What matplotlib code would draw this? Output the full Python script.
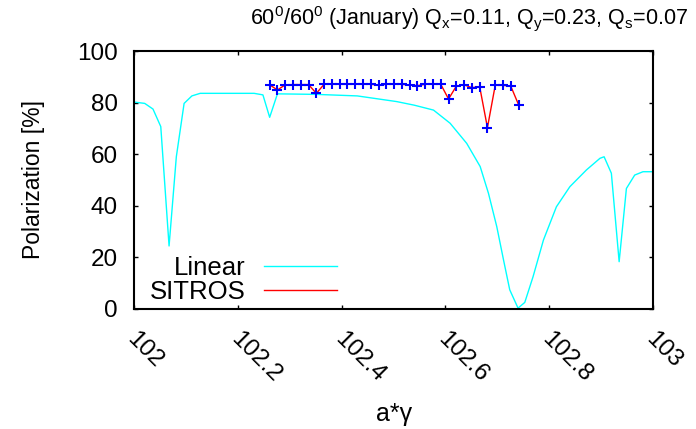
import matplotlib.pyplot as plt
import matplotlib.transforms as mtransforms
import numpy as np

plt.rcParams['font.family'] = ['Liberation Sans', 'DejaVu Sans']
plt.rcParams['mathtext.default'] = 'regular'

# Linear (cyan) curve
lin_x = [102.0, 102.02, 102.036, 102.051, 102.067, 102.081, 102.096, 102.111, 102.127,
         102.231, 102.248, 102.261, 102.276, 102.35, 102.43, 102.506, 102.54, 102.577,
         102.609, 102.641, 102.667, 102.683, 102.699, 102.712, 102.724, 102.740, 102.753,
         102.769, 102.789, 102.814, 102.84, 102.872, 102.898, 102.906, 102.92, 102.935,
         102.949, 102.965, 102.981, 103.0]
lin_y = [80.2, 79.7, 77.5, 70.7, 24.4, 59.0, 79.7, 82.6, 83.6,
         83.6, 83.0, 74.3, 83.4, 83.2, 82.6, 80.4, 79.0, 77.1,
         72.0, 64.2, 55.2, 44.8, 31.9, 19.0, 7.4, 0.3, 2.5,
         12.5, 26.7, 39.6, 47.4, 53.9, 58.4, 59.0, 52.6, 18.3,
         46.7, 51.9, 53.2, 53.2]

# SITROS points (33 points, step 0.015)
sit_x = np.round(102.261 + 0.015 * np.arange(33), 4)
sit_y = [86.9, 84.9, 86.9, 87.0, 87.0, 87.0, 83.6, 87.1, 87.1, 87.1, 87.1,
         87.1, 87.1, 87.1, 86.8, 87.1, 87.1, 87.1, 86.8, 86.6, 87.1, 87.1,
         87.1, 81.4, 86.4, 86.9, 85.8, 86.2, 70.3, 86.7, 86.7, 86.4, 79.2]

xticks = [102, 102.2, 102.4, 102.6, 102.8, 103]
xtick_labels = ['102', '102.2', '102.4', '102.6', '102.8', '103']
yticks = [0, 20, 40, 60, 80, 100]

fig = plt.figure(figsize=(6.96, 4.29), dpi=100)
ax = fig.add_axes([0.193, 0.280, 0.745, 0.601])

ax.plot(lin_x, lin_y, color='#00ffff', lw=1.0, label='Linear')
ax.plot(sit_x, sit_y, color='red', lw=1.0, label='SITROS')
ax.plot(sit_x, sit_y, ls='none', marker='+', color='blue', ms=6.5, mew=1.5)

ax.set_xlim(102, 103)
ax.set_ylim(0, 100)
ax.set_xticks(xticks)
ax.set_xticklabels(xtick_labels, rotation=-45, ha='left', va='top',
                   rotation_mode='anchor')
ax.set_yticks(yticks)
ax.tick_params(direction='in', length=3, width=1, top=True, right=True,
               labelsize=17.5)
ax.tick_params(axis='y', pad=12)
ax.tick_params(axis='x', pad=14)
shift = mtransforms.ScaledTranslation(4 / 100, 0, fig.dpi_scale_trans)
for lab in ax.get_xticklabels():
    lab.set_transform(lab.get_transform() + shift)
for s in ax.spines.values():
    s.set_linewidth(1.5)

ax.set_xlabel('a*γ', fontsize=18, labelpad=11)
ax.set_ylabel('Polarization [%]', fontsize=16.5, labelpad=23)
fig.text(0.674, 1 - 24 / 429,
         '$60^0/60^0$ (January) $Q_x$=0.11, $Q_y$=0.23, $Q_s$=0.07',
         fontsize=15.5, ha='center', va='baseline')

ax.legend(loc='upper right', bbox_to_anchor=(0.391, 0.206), frameon=False,
          markerfirst=False, fontsize=18.5, handlelength=2.85, labelspacing=0.0,
          handletextpad=0.72, borderpad=0, borderaxespad=0)

plt.savefig('out.png')
